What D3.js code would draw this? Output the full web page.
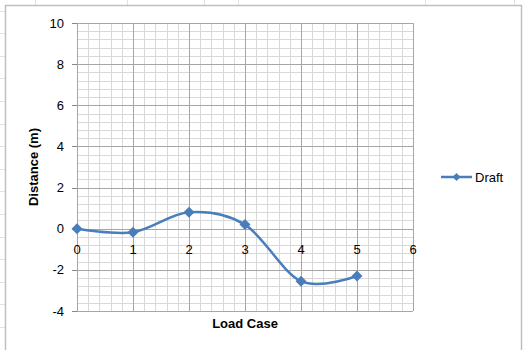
<html>
<head>
<title>Draft</title>
<script src="https://cdn.jsdelivr.net/npm/d3@7"></script>
<style>
  body { margin: 0; background: #fff; }
  text { font-family: "Liberation Sans", Arial, sans-serif; fill: #000; }
</style>
</head>
<body>
<div id="chart"></div>
<script>
(function(){
  "use strict";

  var loadCase = [0, 1, 2, 3, 4, 5];
  var draft = [0, -0.17, 0.8, 0.2, -2.55, -2.3];
  var xTicks = [0, 1, 2, 3, 4, 5, 6];
  var yTicks = [-4, -2, 0, 2, 4, 6, 8, 10];
  var seriesName = "Draft";

  var w = 523, h = 350;
  var left = 77, right = 413, top = 23, bottom = 311;
  var blue = "#4a7ebb";

  var svg = d3.select("#chart").append("svg")
    .attr("width", w)
    .attr("height", h);

  // spreadsheet cells behind the chart
  var cells = svg.append("g").attr("stroke", "#dde3ea").attr("stroke-width", 1);
  [35.5, 127.5, 204.5, 238.5, 425.5, 514.5].forEach(function(x){
    cells.append("line").attr("x1", x).attr("x2", x).attr("y1", 0).attr("y2", 6);
  });
  d3.range(10.5, 350, 22.6).forEach(function(y){
    cells.append("line").attr("x1", 0).attr("x2", 5).attr("y1", Math.round(y) + 0.5).attr("y2", Math.round(y) + 0.5);
  });

  // chart area
  svg.append("rect")
    .attr("x", 5.5).attr("y", 5.5)
    .attr("width", 516).attr("height", 360)
    .attr("fill", "#fff")
    .attr("stroke", "#bfbfbf")
    .attr("stroke-width", 1.5);

  var x = d3.scaleLinear().domain([0, 6]).range([left, right]);
  var y = d3.scaleLinear().domain([-4, 10]).range([bottom, top]);

  var grid = svg.append("g");

  // minor gridlines
  grid.selectAll("line.mx")
    .data(d3.range(0, 30).map(function(i){ return i * 0.2; }).filter(function(v, i){ return i % 5 !== 0; }))
    .enter().append("line")
    .attr("x1", function(d){ return Math.round(x(d)) + 0.5; })
    .attr("x2", function(d){ return Math.round(x(d)) + 0.5; })
    .attr("y1", top).attr("y2", bottom)
    .attr("stroke", "#d9d9d9");

  grid.selectAll("line.my")
    .data(d3.range(0, 35).map(function(i){ return -4 + i * 0.4; }).filter(function(v, i){ return i % 5 !== 0; }))
    .enter().append("line")
    .attr("y1", function(d){ return Math.round(y(d)) + 0.5; })
    .attr("y2", function(d){ return Math.round(y(d)) + 0.5; })
    .attr("x1", left).attr("x2", right)
    .attr("stroke", "#d9d9d9");

  // major gridlines
  grid.selectAll("line.Mx")
    .data(xTicks)
    .enter().append("line")
    .attr("x1", function(d){ return Math.round(x(d)) + 0.5; })
    .attr("x2", function(d){ return Math.round(x(d)) + 0.5; })
    .attr("y1", top).attr("y2", bottom)
    .attr("stroke", "#a6a6a6");

  grid.selectAll("line.My")
    .data(yTicks)
    .enter().append("line")
    .attr("y1", function(d){ return Math.round(y(d)) + 0.5; })
    .attr("y2", function(d){ return Math.round(y(d)) + 0.5; })
    .attr("x1", left).attr("x2", right)
    .attr("stroke", "#a6a6a6");

  // y axis ticks and labels
  var yAxis = svg.append("g");
  yAxis.selectAll("line")
    .data(yTicks)
    .enter().append("line")
    .attr("x1", left - 5).attr("x2", left)
    .attr("y1", function(d){ return Math.round(y(d)) + 0.5; })
    .attr("y2", function(d){ return Math.round(y(d)) + 0.5; })
    .attr("stroke", "#868686");
  yAxis.selectAll("text")
    .data(yTicks)
    .enter().append("text")
    .attr("x", left - 13)
    .attr("y", function(d){ return y(d) + 4.5; })
    .attr("text-anchor", "end")
    .attr("font-size", 13)
    .text(function(d){ return d; });

  // x axis labels sit under the zero line
  svg.selectAll("text.xt")
    .data(xTicks)
    .enter().append("text")
    .attr("x", function(d){ return x(d); })
    .attr("y", y(0) + 25)
    .attr("text-anchor", "middle")
    .attr("font-size", 13)
    .text(function(d){ return d; });

  // axis titles
  svg.append("text")
    .attr("transform", "translate(38," + ((top + bottom) / 2) + ") rotate(-90)")
    .attr("text-anchor", "middle")
    .attr("font-size", 13)
    .attr("font-weight", "bold")
    .text("Distance  (m)");

  svg.append("text")
    .attr("x", (left + right) / 2)
    .attr("y", 328)
    .attr("text-anchor", "middle")
    .attr("font-size", 13)
    .attr("font-weight", "bold")
    .text("Load Case");

  // series
  var pts = loadCase.map(function(c, i){ return [c, draft[i]]; });
  var line = d3.line()
    .x(function(d){ return x(d[0]); })
    .y(function(d){ return y(d[1]); })
    .curve(d3.curveCardinal.tension(0));

  svg.append("path")
    .datum(pts)
    .attr("d", line)
    .attr("fill", "none")
    .attr("stroke", blue)
    .attr("stroke-width", 2.5);

  var diamond = "M0,-5.5L5.5,0L0,5.5L-5.5,0Z";
  svg.selectAll("path.mk")
    .data(pts)
    .enter().append("path")
    .attr("d", diamond)
    .attr("fill", blue)
    .attr("transform", function(d){ return "translate(" + x(d[0]) + "," + y(d[1]) + ")"; });

  // legend
  var lg = svg.append("g").attr("transform", "translate(441,177)");
  lg.append("line").attr("x1", 0).attr("x2", 31).attr("y1", 0).attr("y2", 0)
    .attr("stroke", blue).attr("stroke-width", 2.5);
  lg.append("path").attr("d", "M0,-4L4,0L0,4L-4,0Z").attr("fill", blue)
    .attr("transform", "translate(15.5,0)");
  lg.append("text").attr("x", 34).attr("y", 5).attr("font-size", 13).text(seriesName);
})();
</script>
</body>
</html>
